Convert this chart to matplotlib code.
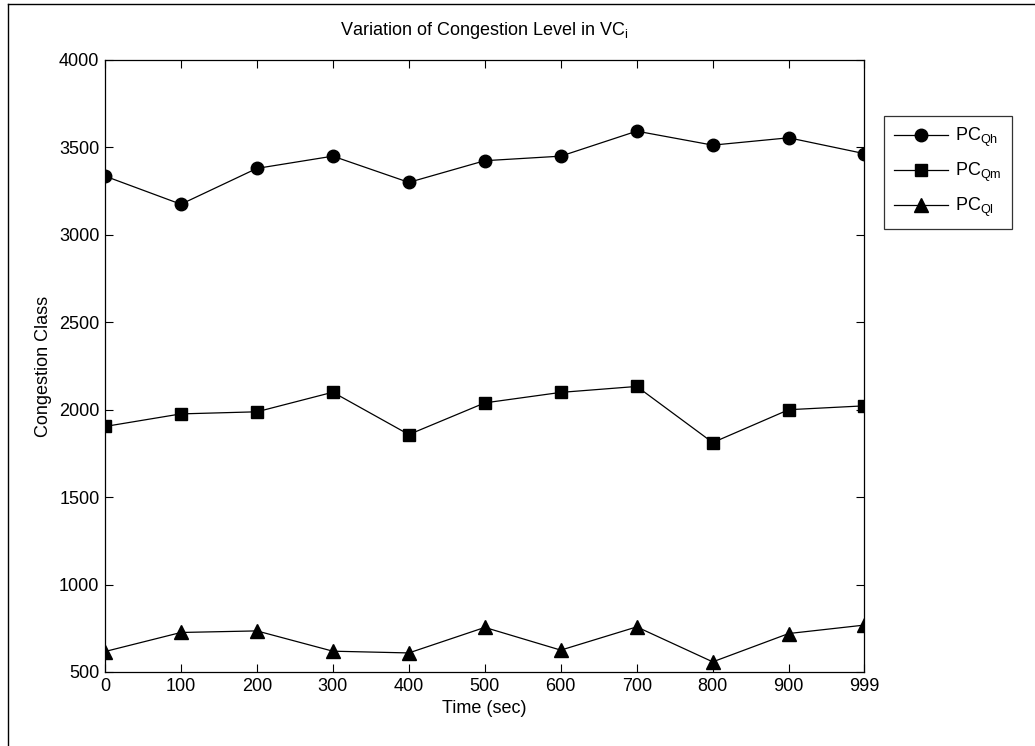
import matplotlib
matplotlib.use('Agg')
import matplotlib.pyplot as plt
from matplotlib.lines import Line2D

plt.rcParams['font.family'] = ['Liberation Sans', 'DejaVu Sans']
plt.rcParams['mathtext.fontset'] = 'custom'
plt.rcParams['mathtext.rm'] = 'Liberation Sans'

# data
time_sec = [0, 100, 200, 300, 400, 500, 600, 700, 800, 900, 999]
pc_qh = [3336, 3175, 3380, 3450, 3300, 3424, 3450, 3593, 3513, 3555, 3465]
pc_qm = [1904, 1976, 1988, 2100, 1858, 2039, 2099, 2133, 1812, 2000, 2022]
pc_ql = [617, 726, 735, 619, 609, 755, 625, 758, 558, 720, 768]
x_ticks = [0, 100, 200, 300, 400, 500, 600, 700, 800, 900, 999]
y_ticks = [500, 1000, 1500, 2000, 2500, 3000, 3500, 4000]

fs = 13

fig = plt.figure(figsize=(10.35, 7.46), dpi=100)
ax = fig.add_axes([0.1014, 0.0992, 0.7333, 0.8204])

ax.plot(time_sec, pc_qh, 'k-o', lw=0.9, ms=9, label=r'PC$_{\mathregular{Qh}}$')
ax.plot(time_sec, pc_qm, 'k-s', lw=0.9, ms=8, label=r'PC$_{\mathregular{Qm}}$')
ax.plot(time_sec, pc_ql, 'k-^', lw=0.9, ms=9.5, label=r'PC$_{\mathregular{Ql}}$')

ax.set_xlim(0, 999)
ax.set_ylim(500, 4000)
ax.set_xticks(x_ticks)
ax.set_yticks(y_ticks)
ax.tick_params(direction='in', top=True, right=True, length=6, width=0.8,
               labelsize=fs, pad=4)
for s in ax.spines.values():
    s.set_linewidth(0.9)

ax.set_xlabel('Time (sec)', fontsize=fs, labelpad=4)
ax.set_ylabel('Congestion Class', fontsize=fs, labelpad=5)
ax.set_title(r'Variation of Congestion Level in VC$_{\mathregular{i}}$', fontsize=fs, pad=18)

leg = ax.legend(loc='upper left', bbox_to_anchor=(884 / 1035, 1 - 116 / 746), bbox_transform=fig.transFigure,
                fontsize=fs, frameon=True, fancybox=False, edgecolor='black', borderaxespad=0,
                handlelength=3.0, borderpad=0.55, labelspacing=0.65, handletextpad=0.4)
leg.get_frame().set_linewidth(0.9)

# partial outer frame (left and top edges visible in reference)
fig.add_artist(Line2D([0.0077, 0.0077], [0.0, 0.9946], color='black', lw=1.0, transform=fig.transFigure))
fig.add_artist(Line2D([0.0077, 1.0], [0.9946, 0.9946], color='black', lw=1.0, transform=fig.transFigure))

fig.savefig('out.png', dpi=100)
